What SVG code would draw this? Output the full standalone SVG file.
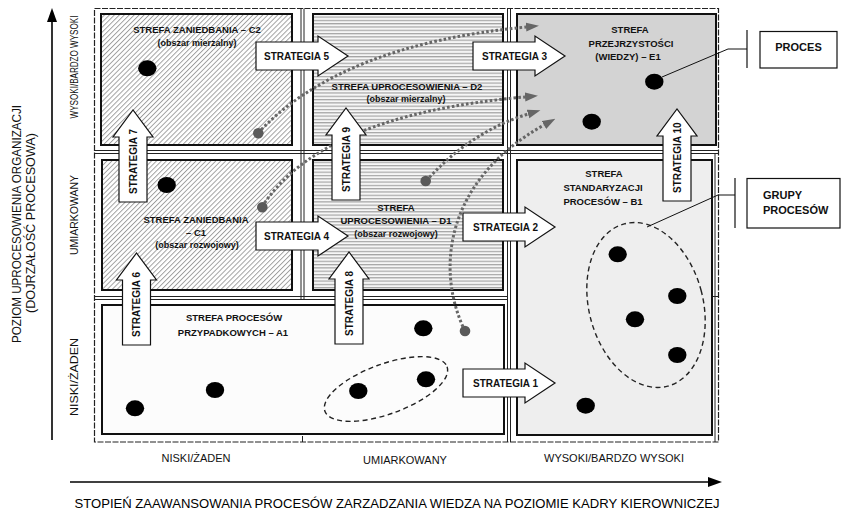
<svg xmlns="http://www.w3.org/2000/svg" width="848" height="511" viewBox="0 0 848 511">
<style>
text{font-family:"Liberation Sans",Arial,sans-serif;fill:#111}
.zt{font-weight:bold;font-size:9.5px;text-anchor:middle}
.zs{font-weight:bold;font-size:9px;text-anchor:middle}
.st{font-weight:bold;font-size:10px}
.ax{font-size:10px;text-anchor:middle}
.cl{font-weight:bold;font-size:11px}
.arr{fill:#fff;stroke:#111;stroke-width:1.2}
.zone{stroke:#111;stroke-width:2}
.grid{stroke:#222;stroke-width:1;fill:none}
.dot{fill:#000}
.gdot{fill:#5a5a5a}
.dl{fill:none;stroke:#666;stroke-width:3;stroke-dasharray:2.6 2.2;marker-end:url(#gh)}
.lead{fill:none;stroke:#111;stroke-width:1}
.box{fill:#fff;stroke:#111;stroke-width:1.2}
.grp{fill:none;stroke:#222;stroke-width:1.4;stroke-dasharray:5 3.5}
</style>
<defs>
<pattern id="diag" patternUnits="userSpaceOnUse" width="3.5" height="3.5" patternTransform="rotate(45)">
<rect width="3.5" height="3.5" fill="#fff"/>
<line x1="0.5" y1="0" x2="0.5" y2="3.5" stroke="#8c8c8c" stroke-width="0.8"/>
</pattern>
<pattern id="horiz" patternUnits="userSpaceOnUse" width="6" height="3.3">
<rect width="6" height="3.3" fill="#f6f6f6"/>
<rect width="6" height="1.2" fill="#a4a4a4"/>
</pattern>
<path id="ha" d="M0,-14 H62 V-20 L92,0 L62,20 V14 H0 Z"/>
<path id="va" d="M-14,0 V-65 H-20 L0,-92 L20,-65 H14 V0 Z"/>
<marker id="gh" markerUnits="userSpaceOnUse" markerWidth="13" markerHeight="10" viewBox="0 0 13 10" refX="0" refY="5" orient="auto">
<path d="M0,0.5 L13,5 L0,9.5 Z" fill="#666"/>
</marker>
</defs>

<g id="axes">
<line x1="52" y1="440" x2="52" y2="20" stroke="#000" stroke-width="1.6"/>
<polygon points="52,8 47,22 57,22" fill="#000"/>
<line x1="70" y1="482" x2="710" y2="482" stroke="#000" stroke-width="1.6"/>
<polygon points="722,482 708,477 708,487" fill="#000"/>
<text transform="translate(20.5,224) rotate(-90)" font-size="12" text-anchor="middle" textLength="238" lengthAdjust="spacingAndGlyphs">POZIOM UPROCESOWIENIA ORGANIZACJI</text>
<text transform="translate(35,223) rotate(-90)" font-size="12" text-anchor="middle" textLength="180" lengthAdjust="spacingAndGlyphs">(DOJRZAŁOŚĆ PROCESOWA)</text>
<text class="ax" transform="translate(78,67) rotate(-90) scale(0.81,1)">WYSOKI/BARDZO WYSOKI</text>
<text class="ax" transform="translate(78,215) rotate(-90)" textLength="80" lengthAdjust="spacingAndGlyphs">UMIARKOWANY</text>
<text class="ax" transform="translate(78,377) rotate(-90)" textLength="78" lengthAdjust="spacingAndGlyphs">NISKI/ŻADEN</text>
<text x="196" y="462" font-size="11" text-anchor="middle">NISKI/ŻADEN</text>
<text x="405" y="464" font-size="11" text-anchor="middle">UMIARKOWANY</text>
<text x="614" y="462" font-size="11" text-anchor="middle">WYSOKI/BARDZO WYSOKI</text>
<text x="397" y="508" font-size="13" text-anchor="middle" textLength="645" lengthAdjust="spacingAndGlyphs" style="fill:#000">STOPIEŃ ZAAWANSOWANIA PROCESÓW ZARZADZANIA WIEDZA NA POZIOMIE KADRY KIEROWNICZEJ</text>
</g>

<g id="grid">
<rect x="94.5" y="8.5" width="624" height="433.5" fill="none" stroke="#222" stroke-width="1.2" stroke-dasharray="6 1.5"/>
<path class="grid" d="M301,8.5 V300 M304,8.5 V300 M507.5,8.5 V442 M510.5,8.5 V442 M94.5,150.5 H718.5 M94.5,153.5 H718.5 M94.5,296.5 H507.5 M94.5,299.5 H507.5 M715,153.5 V442 M712,296.5 H718.5 M302.5,436 V442"/>
</g>

<g id="zone-C2">
<rect class="zone" x="101" y="14" width="191" height="131" fill="url(#diag)"/>
<text class="zt" x="197" y="33">STREFA ZANIEDBANIA – C2</text>
<text class="zs" x="197" y="46">(obszar mierzalny)</text>
</g>
<g id="zone-D2">
<rect class="zone" x="313" y="14" width="190" height="131" fill="url(#horiz)"/>
<text class="zt" x="407" y="90">STREFA UPROCESOWIENIA – D2</text>
<text class="zs" x="406" y="102">(obszar mierzalny)</text>
</g>
<g id="zone-E1">
<rect class="zone" x="517" y="14" width="199" height="131" fill="#d3d3d3"/>
<text class="zt" x="630" y="33">STREFA</text>
<text class="zt" x="631" y="47">PRZEJRZYSTOŚCI</text>
<text class="zt" x="628" y="60">(WIEDZY) – E1</text>
</g>
<g id="zone-C1">
<rect class="zone" x="102" y="160" width="190" height="130" fill="url(#diag)"/>
<text class="zt" x="196" y="223">STREFA ZANIEDBANIA</text>
<text class="zt" x="196" y="236">– C1</text>
<text class="zs" x="197" y="248">(obszar rozwojowy)</text>
</g>
<g id="zone-D1">
<rect class="zone" x="313" y="160" width="190" height="130" fill="url(#horiz)"/>
<text class="zt" x="396" y="211">STREFA</text>
<text class="zt" x="396" y="224">UPROCESOWIENIA – D1</text>
<text class="zs" x="396" y="237">(obszar rozwojowy)</text>
</g>
<g id="zone-B1">
<rect class="zone" x="517" y="160" width="195" height="275" fill="#eeeeee"/>
<text class="zt" x="604" y="177">STREFA</text>
<text class="zt" x="603" y="191">STANDARYZACJI</text>
<text class="zt" x="603" y="205">PROCESÓW – B1</text>
</g>
<g id="zone-A1">
<rect class="zone" x="102" y="305" width="402" height="129" fill="#fcfcfc"/>
<text class="zt" x="234" y="321">STREFA PROCESÓW</text>
<text class="zt" x="233" y="336">PRZYPADKOWYCH – A1</text>
</g>

<g id="groups">
<ellipse class="grp" cx="386" cy="389" rx="65" ry="25" transform="rotate(-20 386 389)"/>
<ellipse class="grp" cx="646" cy="305" rx="57" ry="84" transform="rotate(-15 646 305)"/>
</g>

<g id="connectors">
<path class="dl" d="M258,133 Q340,45 526,27"/>
<path class="dl" d="M262,207 Q320,115 525,97"/>
<path class="dl" d="M426,181 Q470,132 528,114"/>
<path class="dl" d="M465,331 C435,270 445,180 544,125"/>
<polyline class="lead" points="662,77 728,49 747,49"/>
<polyline class="lead" points="647,227 718,195 735,195"/>
</g>

<g id="strategy-5"><use href="#ha" class="arr" x="256" y="56"/><text class="st" x="264" y="59.5">STRATEGIA 5</text></g>
<g id="strategy-3"><use href="#ha" class="arr" x="473" y="56"/><text class="st" x="482" y="59.5">STRATEGIA 3</text></g>
<g id="strategy-4"><use href="#ha" class="arr" x="256" y="236"/><text class="st" x="264" y="239.5">STRATEGIA 4</text></g>
<g id="strategy-2"><use href="#ha" class="arr" x="463" y="227"/><text class="st" x="473" y="230.5">STRATEGIA 2</text></g>
<g id="strategy-1"><use href="#ha" class="arr" x="463" y="383"/><text class="st" x="473" y="386.5">STRATEGIA 1</text></g>
<g id="strategy-7"><use href="#va" class="arr" x="133" y="202"/><text class="st" transform="translate(136.5,194) rotate(-90)">STRATEGIA 7</text></g>
<g id="strategy-6"><use href="#va" class="arr" x="136.5" y="345"/><text class="st" transform="translate(140,337) rotate(-90)">STRATEGIA 6</text></g>
<g id="strategy-9"><use href="#va" class="arr" x="346" y="200"/><text class="st" transform="translate(349.5,192) rotate(-90)">STRATEGIA 9</text></g>
<g id="strategy-8"><use href="#va" class="arr" x="349" y="344"/><text class="st" transform="translate(352.5,336) rotate(-90)">STRATEGIA 8</text></g>
<g id="strategy-10"><use href="#va" class="arr" x="677" y="201"/><text class="st" transform="translate(680.5,193) rotate(-90)">STRATEGIA 10</text></g>

<g id="process-dots">
<circle class="gdot" cx="258.3" cy="133.3" r="5.3"/>
<circle class="gdot" cx="262.3" cy="207.3" r="5.3"/>
<circle class="gdot" cx="425.7" cy="181" r="5.3"/>
<circle class="gdot" cx="465" cy="331" r="5.3"/>
<ellipse class="dot" cx="147.3" cy="68.3" rx="9.2" ry="8"/>
<ellipse class="dot" cx="654.3" cy="81.7" rx="9.2" ry="8"/>
<ellipse class="dot" cx="591.7" cy="121.7" rx="9.2" ry="8"/>
<ellipse class="dot" cx="166.7" cy="185" rx="9.2" ry="8"/>
<ellipse class="dot" cx="135" cy="408.3" rx="9.2" ry="8"/>
<ellipse class="dot" cx="215" cy="390" rx="9.2" ry="8"/>
<ellipse class="dot" cx="423.3" cy="328.3" rx="9.2" ry="8"/>
<ellipse class="dot" cx="358.3" cy="391" rx="9.2" ry="8"/>
<ellipse class="dot" cx="426" cy="379.3" rx="9.2" ry="8"/>
<ellipse class="dot" cx="617.7" cy="254.3" rx="9.2" ry="8"/>
<ellipse class="dot" cx="677.3" cy="296" rx="9.2" ry="8"/>
<ellipse class="dot" cx="635" cy="319.3" rx="9.2" ry="8"/>
<ellipse class="dot" cx="677.3" cy="355" rx="9.2" ry="8"/>
<ellipse class="dot" cx="585.7" cy="405.7" rx="9.2" ry="8"/>
</g>

<g id="callout-proces">
<line x1="747" y1="30" x2="747" y2="68" stroke="#111" stroke-width="1.2"/>
<rect class="box" x="760" y="31.5" width="77" height="36.5"/>
<text class="cl" x="798.5" y="50.5" text-anchor="middle">PROCES</text>
</g>
<g id="callout-grupy">
<line x1="735" y1="178" x2="735" y2="228" stroke="#111" stroke-width="1.2"/>
<rect class="box" x="747" y="178.5" width="93" height="49.5"/>
<text class="cl" x="763" y="199">GRUPY</text>
<text class="cl" x="763" y="214">PROCESÓW</text>
</g>
</svg>
